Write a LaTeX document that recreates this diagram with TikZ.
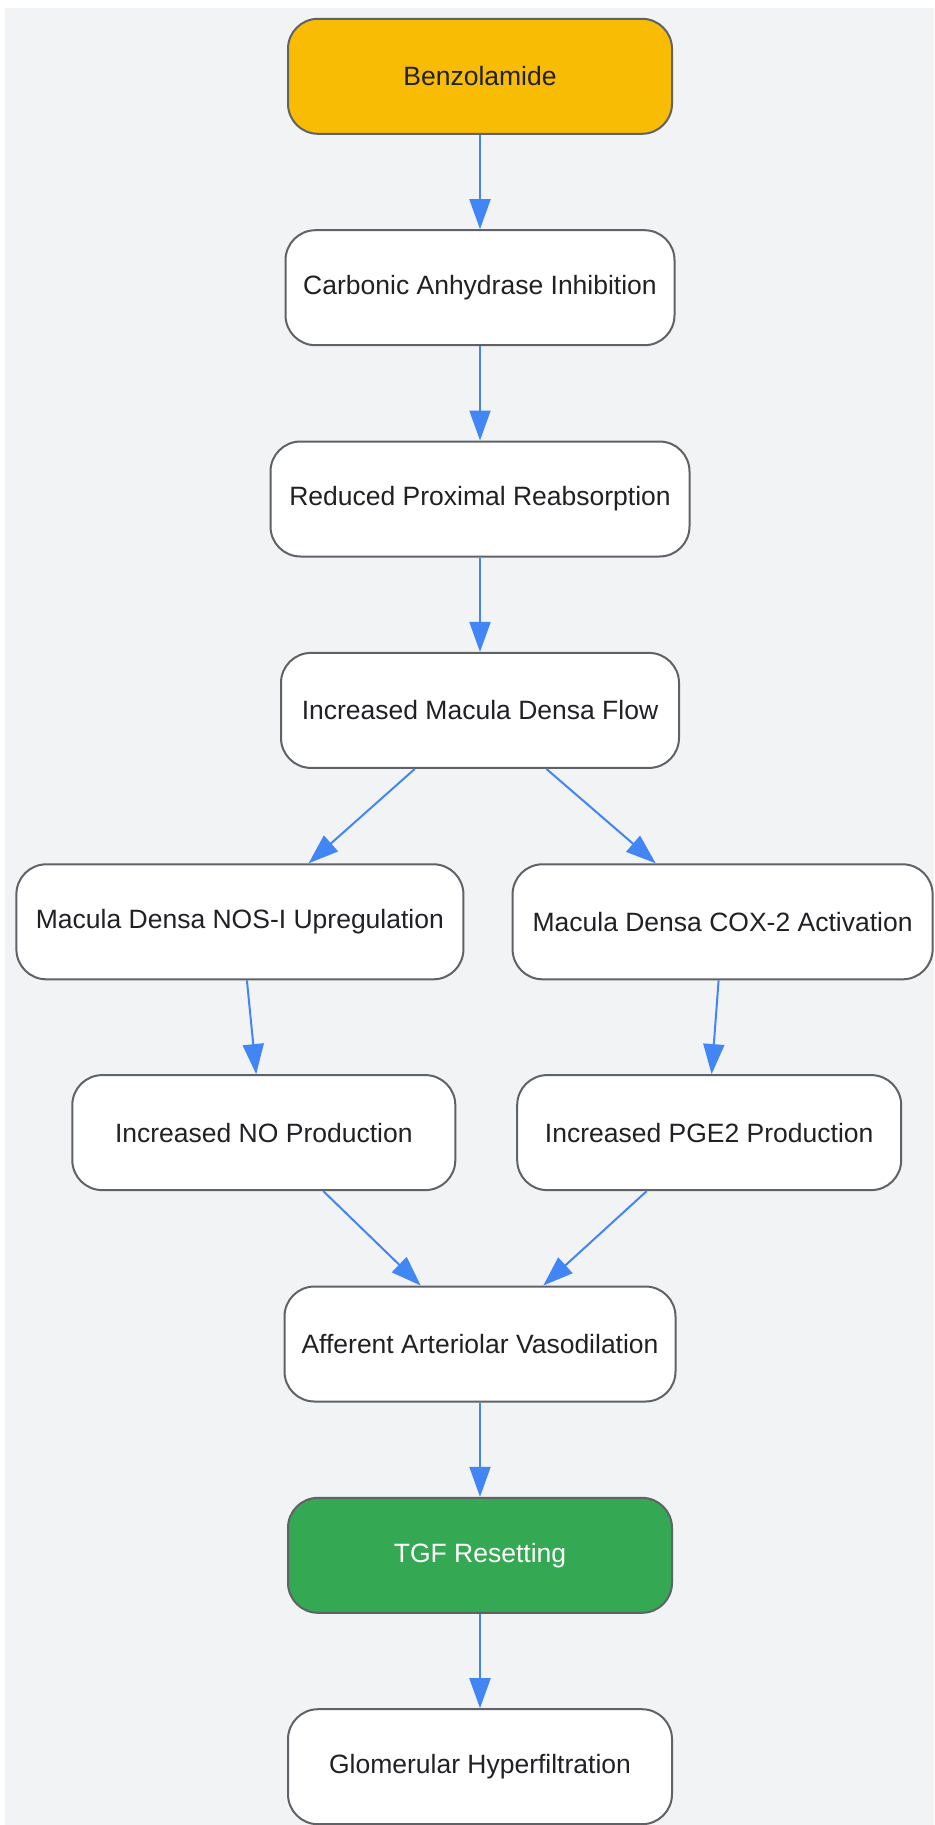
\documentclass[tikz,border=0pt]{standalone}
\usepackage{fontspec}
\setmainfont{Liberation Sans}
\usetikzlibrary{arrows.meta}
\definecolor{bgc}{HTML}{F1F3F4}
\definecolor{bordc}{HTML}{5F6368}
\definecolor{txtc}{HTML}{202124}
\definecolor{yelc}{HTML}{F9BC05}
\definecolor{grnc}{HTML}{34A853}
\definecolor{arrc}{HTML}{4285F4}
\tikzset{
  box/.style={draw=bordc, line width=2pt, fill=white, rounded corners=30pt,
    minimum height=115pt, inner sep=0pt, text=txtc,
    font=\fontsize{26.5}{30}\selectfont},
  arr/.style={draw=arrc, line width=2pt, -{Triangle[length=30pt,width=21pt]}}
}
\begin{document}
\begin{tikzpicture}[x=1pt,y=-1pt]
\useasboundingbox (0,0) rectangle (934,1825);
\fill[white] (0,0) rectangle (934,1825);
\fill[bgc] (5,8) rectangle (934,1825);

\node[box, fill=yelc, minimum width=384pt] (ben) at (480,76.3) {Benzolamide};
\node[box, minimum width=389pt] (ca) at (480,287.7) {Carbonic Anhydrase Inhibition};
\node[box, minimum width=419pt] (rpr) at (480,499) {Reduced Proximal Reabsorption};
\node[box, minimum width=398pt] (imd) at (480,710.4) {Increased Macula Densa Flow};
\node[box, minimum width=447pt] (nos) at (239.9,921.8) {Macula Densa NOS-I Upregulation};
\node[box, minimum width=420pt] (cox) at (722.6,921.8) {Macula Densa COX-2 Activation};
\node[box, minimum width=383pt] (no) at (263.8,1132.6) {Increased NO Production};
\node[box, minimum width=384pt] (pge) at (709.2,1132.6) {Increased PGE2 Production};
\node[box, minimum width=391pt] (aff) at (480,1344) {Afferent Arteriolar Vasodilation};
\node[box, fill=grnc, text=white, minimum width=384pt] (tgf) at (480,1555.3) {TGF Resetting};
\node[box, minimum width=384pt] (glo) at (480,1766.7) {Glomerular Hyperfiltration};

\draw[arr] (ben.south) -- (ca.north);
\draw[arr] (ca.south) -- (rpr.north);
\draw[arr] (rpr.south) -- (imd.north);
\draw[arr] ([xshift=-65.2pt]imd.south) -- ([xshift=68.7pt]nos.north);
\draw[arr] ([xshift=66.4pt]imd.south) -- ([xshift=-66.9pt]cox.north);
\draw[arr] ([xshift=7pt]nos.south) -- ([xshift=-7.6pt]no.north);
\draw[arr] ([xshift=-4pt]cox.south) -- ([xshift=2.4pt]pge.north);
\draw[arr] ([xshift=59.5pt]no.south) -- ([xshift=-59.3pt]aff.north);
\draw[arr] ([xshift=-62.5pt]pge.south) -- ([xshift=63.3pt]aff.north);
\draw[arr] (aff.south) -- (tgf.north);
\draw[arr] (tgf.south) -- (glo.north);
\end{tikzpicture}
\end{document}
